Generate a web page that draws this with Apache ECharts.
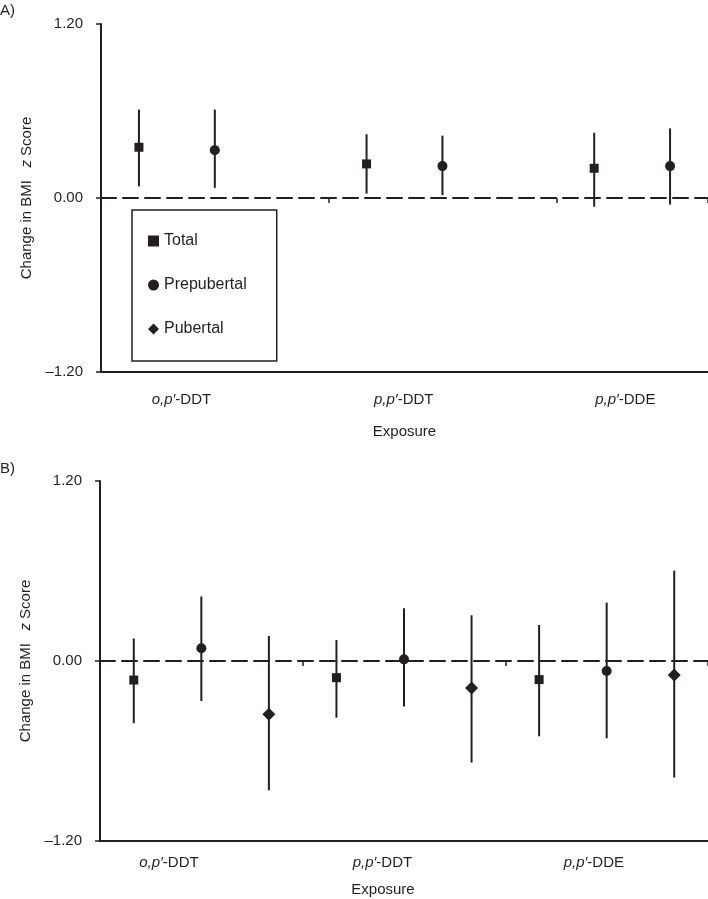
<!DOCTYPE html>
<html>
<head>
<meta charset="utf-8">
<script src="https://cdn.jsdelivr.net/npm/echarts@6/dist/echarts.min.js"></script>
<style>
html,body{margin:0;padding:0;background:#fff;}
#chart{width:708px;height:899px;}
</style>
</head>
<body>
<div id="chart"></div>
<script>
// ---- Data ----
const exposures = ['o,p′-DDT', 'p,p′-DDT', 'p,p′-DDE'];
const subgroups = ['Total', 'Prepubertal', 'Pubertal'];
const yTicks = [-1.2, 0, 1.2];

// Panel A: change in BMI z score, estimate and 95% CI
const aTotalEst  = [0.35, 0.235, 0.205];
const aTotalLow  = [0.08, 0.03, -0.06];
const aTotalHigh = [0.61, 0.44, 0.45];
const aPreEst    = [0.33, 0.22, 0.22];
const aPreLow    = [0.07, 0.02, -0.045];
const aPreHigh   = [0.61, 0.43, 0.48];

// Panel B
const bTotalEst  = [-0.127, -0.111, -0.124];
const bTotalLow  = [-0.415, -0.378, -0.502];
const bTotalHigh = [0.15, 0.14, 0.24];
const bPreEst    = [0.085, 0.011, -0.067];
const bPreLow    = [-0.267, -0.304, -0.515];
const bPreHigh   = [0.43, 0.351, 0.389];
const bPubEst    = [-0.355, -0.18, -0.093];
const bPubLow    = [-0.862, -0.677, -0.777];
const bPubHigh   = [0.167, 0.305, 0.603];

// ---- Build ----
const INK = '#231f20';
const FONT = 'Liberation Sans, Arial, sans-serif';

// slot categories: exposure x subgroup
const slotsB = [];
exposures.forEach(e => subgroups.forEach(s => slotsB.push(e + ' ' + s)));
const slotsA = slotsB.slice(0, slotsB.length - 1);

function slot(e, s) { return e * 3 + s; }

function pts(est, s) { return est.map((v, e) => [slot(e, s), v]); }
function bars(low, high, s) { return low.map((l, e) => [slot(e, s), l, high[e]]); }

const symbols = { Total: ['rect', 9], Prepubertal: ['circle', 10], Pubertal: ['diamond', 13] };

function errSeries(data, xi, yi) {
  return {
    type: 'custom', xAxisIndex: xi, yAxisIndex: yi, z: 1, silent: true,
    renderItem: function (params, api) {
      const p1 = api.coord([api.value(0), api.value(1)]);
      const p2 = api.coord([api.value(0), api.value(2)]);
      return { type: 'line', shape: { x1: p1[0], y1: p1[1], x2: p2[0], y2: p2[1] },
               style: { stroke: INK, lineWidth: 2 } };
    },
    data: data
  };
}
function ptSeries(name, data, xi, yi) {
  return {
    type: 'scatter', name: name, xAxisIndex: xi, yAxisIndex: yi, z: 3, silent: true,
    symbol: symbols[name][0], symbolSize: symbols[name][1],
    itemStyle: { color: INK, opacity: 1 },
    data: data
  };
}

function expLabel(v, positions) {
  let idx = 0, best = 1e9;
  positions.forEach((p, i) => { if (Math.abs(p - v) < best) { best = Math.abs(p - v); idx = i; } });
  const name = exposures[idx];
  const k = name.indexOf('-');
  return '{i|' + name.slice(0, k) + '}{n|' + name.slice(k) + '}';
}

const labelPosA = [1.06, 3.99, 6.91];
const labelPosB = [1.02, 4.18, 7.31];

function slotAxis(gi, cats) {
  return {
    type: 'category', gridIndex: gi, data: cats, boundaryGap: true,
    axisLine: { onZero: true, lineStyle: { color: INK, width: 2, type: [15, 7] } },
    axisTick: { show: true, length: 5, interval: function (i) { return i % 3 === 0; },
                lineStyle: { color: INK, width: 1.5 } },
    axisLabel: { show: false }, splitLine: { show: false }
  };
}
function labelAxis(gi, n, positions, margin, nameGap, namePad) {
  return {
    type: 'value', gridIndex: gi, min: 0, max: n, position: 'bottom',
    axisLine: { show: true, onZero: false, lineStyle: { color: INK, width: 2 } },
    axisTick: { show: false }, splitLine: { show: false },
    axisLabel: {
      customValues: positions, margin: margin,
      formatter: function (v) { return expLabel(v, positions); },
      rich: {
        i: { fontStyle: 'italic', fontSize: 15, fontFamily: FONT, color: INK },
        n: { fontSize: 15, fontFamily: FONT, color: INK }
      }
    },
    name: 'Exposure', nameLocation: 'middle', nameGap: nameGap,
    nameTextStyle: { fontSize: 15, fontFamily: FONT, color: INK, padding: namePad }
  };
}
function yAx(gi) {
  return {
    type: 'value', gridIndex: gi, min: -1.2, max: 1.2, interval: 1.2,
    axisLine: { show: true, onZero: false, lineStyle: { color: INK, width: 2 } },
    axisTick: { show: true, length: 5, lineStyle: { color: INK, width: 1.5 } },
    splitLine: { show: false },
    axisLabel: { margin: 18, fontSize: 15, fontFamily: FONT, color: INK,
                 formatter: function (v) { return v < 0 ? '–' + Math.abs(v).toFixed(2) : v.toFixed(2); } },
    name: 'Change in BMI   {i|z} Score', nameLocation: 'middle', nameGap: 66,
    nameTextStyle: { fontSize: 15, fontFamily: FONT, color: INK,
                     rich: { i: { fontStyle: 'italic', fontSize: 15, fontFamily: FONT, color: INK } } }
  };
}

const option = {
  animation: false,
  backgroundColor: '#fff',
  textStyle: { fontFamily: FONT },
  graphic: [
    { type: 'text', left: 0, top: 3, style: { text: 'A)', fontSize: 15, fontFamily: FONT, fill: INK } },
    { type: 'text', left: 0, top: 461, style: { text: 'B)', fontSize: 15, fontFamily: FONT, fill: INK } }
  ],
  legend: {
    orient: 'vertical', left: 132, top: 210, selectedMode: false,
    data: subgroups,
    itemWidth: 11, itemHeight: 11, itemGap: 28,
    padding: [23, 30, 24, 16],
    borderColor: INK, borderWidth: 1.5, borderRadius: 0, backgroundColor: '#fff',
    textStyle: { fontSize: 16, fontFamily: FONT, color: INK }
  },
  grid: [
    { left: 101, top: 24, width: 607, height: 348 },
    { left: 100, top: 481, width: 608, height: 360 }
  ],
  xAxis: [
    slotAxis(0, slotsA),
    labelAxis(0, slotsA.length, labelPosA, 20, 52, [0, 0, 0, 0]),
    slotAxis(1, slotsB),
    labelAxis(1, slotsB.length, labelPosB, 14, 41, [0, 42, 0, 0])
  ],
  yAxis: [yAx(0), yAx(1)],
  series: [
    errSeries(bars(aTotalLow, aTotalHigh, 0).concat(bars(aPreLow, aPreHigh, 1)), 0, 0),
    ptSeries('Total', pts(aTotalEst, 0), 0, 0),
    ptSeries('Prepubertal', pts(aPreEst, 1), 0, 0),
    ptSeries('Pubertal', [], 0, 0),
    errSeries(bars(bTotalLow, bTotalHigh, 0).concat(bars(bPreLow, bPreHigh, 1), bars(bPubLow, bPubHigh, 2)), 2, 1),
    ptSeries('Total', pts(bTotalEst, 0), 2, 1),
    ptSeries('Prepubertal', pts(bPreEst, 1), 2, 1),
    ptSeries('Pubertal', pts(bPubEst, 2), 2, 1)
  ]
};

const chart = echarts.init(document.getElementById('chart'), null, { renderer: 'canvas' });
chart.setOption(option);
</script>
</body>
</html>
